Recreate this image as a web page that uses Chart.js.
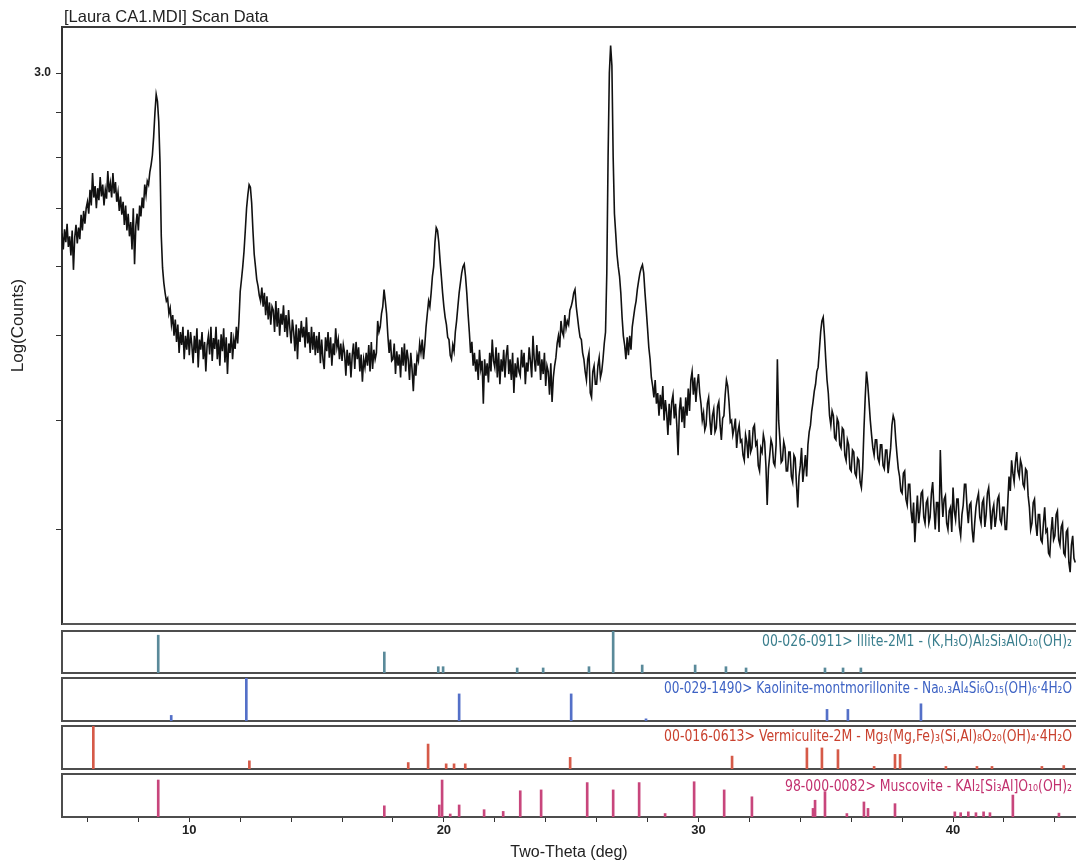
<!DOCTYPE html>
<html>
<head>
<meta charset="utf-8">
<title>Laura CA1 Scan Data</title>
<script src="https://cdn.jsdelivr.net/npm/chart.js@4.4.1/dist/chart.umd.min.js"></script>
<style>
  html, body { margin: 0; padding: 0; background: #fff; }
  #wrap { position: relative; width: 1076px; height: 866px; overflow: hidden; }
  #wrap canvas { position: absolute; left: 0; }
</style>
</head>
<body>
<div id="wrap">
  <canvas id="scanChart" width="1076" height="640" style="top:0px"></canvas>
  <canvas id="illiteChart" width="1076" height="50" style="top:627px"></canvas>
  <canvas id="kaoliniteChart" width="1076" height="51" style="top:674px"></canvas>
  <canvas id="vermiculiteChart" width="1076" height="51" style="top:722px"></canvas>
  <canvas id="muscoviteChart" width="1076" height="96" style="top:770px"></canvas>
</div>
<script>
// Scan: 2-theta sampling grid and counts (one row per degree)
const scanStart = 5.0;
const scanStep = 0.05;
const scanCounts = [
    655, 628, 662, 640, 672, 632, 650, 618, 660, 595, 648, 670, 638, 665, 645, 688, 660, 695, 672, 700,
    712, 690, 735, 705, 768, 720, 742, 700, 738, 715, 760, 722, 745, 705, 735, 718, 772, 730, 748, 720,
    768, 728, 750, 712, 730, 695, 722, 688, 712, 670, 705, 660, 690, 650, 675, 628, 700, 604, 668, 690,
    660, 705, 685, 720, 700, 745, 725, 752, 745, 770, 785, 805, 845, 900, 945, 928, 880, 790, 650, 598,
    575, 560, 548, 552, 530, 538, 515, 528, 500, 522, 492, 515, 478, 505, 488, 512, 470, 500, 482, 508,
    475, 505, 488, 465, 500, 478, 510, 460, 495, 482, 505, 470, 492, 455, 488, 500, 476, 512, 468, 497,
    483, 512, 470, 495, 462, 502, 480, 510, 466, 498, 452, 490, 478, 505, 470, 495, 483, 512, 490, 520,
    562, 580, 600, 625, 660, 700, 725, 745, 740, 710, 660, 620, 600, 580, 570, 556, 548, 568, 540, 560,
    528, 555, 522, 546, 515, 540, 535, 505, 548, 512, 538, 500, 530, 515, 542, 505, 528, 498, 535, 510,
    490, 522, 505, 480, 515, 470, 510, 492, 520, 498, 512, 485, 525, 490, 505, 478, 512, 482, 505, 475,
    500, 478, 505, 465, 495, 470, 458, 498, 480, 505, 472, 498, 462, 490, 475, 510, 485, 495, 470, 490,
    468, 488, 478, 450, 482, 462, 478, 448, 475, 490, 458, 492, 470, 485, 455, 476, 443, 470, 460, 478,
    462, 488, 455, 492, 458, 482, 470, 478, 520, 505, 512, 530, 540, 565, 548, 530, 500, 478, 495, 468,
    470, 490, 452, 480, 462, 476, 448, 485, 462, 490, 455, 482, 470, 445, 478, 458, 432, 465, 450, 475,
    468, 490, 478, 495, 470, 488, 512, 530, 548, 540, 560, 585, 600, 640, 665, 660, 640, 610, 585, 560,
    540, 525, 515, 498, 495, 475, 470, 488, 480, 505, 520, 540, 560, 575, 590, 600, 604, 585, 560, 530,
    505, 478, 492, 462, 478, 455, 470, 445, 482, 458, 468, 418, 470, 450, 465, 442, 478, 455, 495, 468,
    460, 485, 448, 478, 440, 470, 455, 482, 448, 475, 488, 452, 470, 445, 478, 430, 465, 448, 472, 455,
    450, 482, 460, 478, 440, 466, 455, 485, 468, 448, 500, 470, 455, 488, 462, 480, 445, 470, 452, 478,
    438, 462, 455, 428, 465, 420, 448, 462, 472, 490, 500, 485, 520, 505, 500, 528, 510, 520, 515, 535,
    540, 548, 560, 565, 540, 525, 510, 498, 495, 478, 470, 455, 445, 470, 478, 430, 425, 455, 462, 440,
    440, 462, 472, 448, 455, 470, 490, 505, 590, 800, 1000, 1075, 1020, 800, 690, 655, 620, 600, 585, 560,
    525, 500, 488, 470, 498, 475, 500, 482, 512, 525, 538, 548, 565, 578, 590, 598, 603, 590, 560, 535,
    510, 485, 470, 448, 438, 425, 445, 418, 430, 405, 428, 412, 438, 400, 422, 408, 385, 418, 395, 420,
    428, 402, 418, 395, 365, 410, 425, 398, 415, 392, 425, 405, 435, 410, 445, 455, 428, 448, 420, 440,
    452, 430, 418, 400, 408, 390, 395, 418, 425, 400, 385, 405, 412, 388, 392, 415, 420, 395, 380, 402,
    405, 428, 445, 438, 420, 398, 400, 385, 392, 402, 372, 388, 395, 378, 380, 365, 360, 385, 378, 362,
    390, 368, 372, 392, 395, 375, 378, 355, 350, 372, 368, 385, 378, 355, 320, 352, 365, 380, 375, 358,
    355, 375, 470, 400, 380, 358, 360, 378, 372, 350, 350, 368, 368, 345, 340, 365, 362, 338, 318, 345,
    355, 372, 340, 352, 365, 345, 375, 388, 395, 410, 420, 432, 440, 455, 460, 482, 505, 520, 525, 500,
    470, 445, 430, 405, 395, 410, 405, 382, 380, 402, 398, 375, 372, 392, 390, 365, 360, 380, 375, 352,
    350, 370, 368, 348, 345, 362, 360, 340, 335, 352, 390, 425, 455, 440, 420, 400, 385, 372, 365, 380,
    380, 362, 358, 375, 375, 355, 352, 370, 370, 348, 360, 372, 395, 405, 400, 380, 365, 352, 345, 332,
    330, 348, 350, 325, 320, 338, 338, 315, 305, 322, 290, 310, 328, 305, 315, 330, 332, 310, 305, 322,
    325, 305, 310, 330, 340, 318, 300, 322, 322, 298, 370, 330, 310, 325, 328, 305, 300, 315, 318, 298,
    335, 315, 308, 325, 325, 302, 295, 312, 320, 338, 338, 318, 305, 320, 322, 300, 290, 305, 318, 325,
    330, 310, 305, 322, 325, 302, 312, 330, 335, 318, 300, 315, 320, 302, 310, 325, 328, 308, 305, 318,
    318, 300, 300, 322, 345, 332, 360, 348, 340, 358, 368, 350, 345, 360, 355, 338, 335, 352, 350, 328,
    318, 300, 305, 322, 325, 305, 295, 312, 312, 292, 290, 305, 318, 298, 300, 282, 280, 298, 310, 292,
    295, 312, 315, 292, 288, 302, 305, 282, 280, 298, 300, 275, 268, 288, 295, 278, 275
];

// Reference patterns: peak positions (deg 2-theta) and relative intensity (%)
const illitePos = [8.78, 17.66, 19.78, 19.97, 22.88, 23.90, 25.70, 26.65, 27.79, 29.87, 31.08, 31.87, 34.97, 35.68, 36.38];
const illiteInt = [90, 50, 15, 15, 12, 12, 15, 100, 19, 19, 15, 12, 12, 12, 12];

const kaolinitePos = [9.29, 12.24, 20.60, 25.00, 27.94, 35.05, 35.87, 38.74];
const kaoliniteInt = [13, 100, 63, 63, 5, 27, 27, 40];

const vermiculitePos = [6.23, 12.36, 18.60, 19.38, 20.09, 20.40, 20.84, 24.96, 31.32, 34.26, 34.85, 35.48, 36.90, 37.72, 37.92, 39.72, 40.94, 41.53, 43.49, 44.35];
const vermiculiteInt = [100, 19, 15, 58, 12, 12, 12, 27, 30, 49, 49, 45, 6, 34, 34, 6, 6, 6, 6, 8];

const muscovitePos = [8.78, 17.66, 19.82, 19.93, 20.25, 20.60, 21.58, 22.33, 23.00, 23.82, 25.63, 26.65, 27.67, 28.69, 29.83, 31.01, 32.10, 34.50, 34.58, 34.97, 35.83, 36.50, 36.66, 37.72, 40.07, 40.30, 40.60, 40.90, 41.20, 41.45, 42.35, 44.16];
const muscoviteInt = [86, 26, 28, 86, 7, 28, 17, 13, 61, 63, 80, 63, 80, 8, 82, 63, 47, 20, 39, 59, 8, 35, 20, 31, 12, 10, 12, 10, 12, 10, 51, 9];

// Axis ticks
const xTickValues = [6, 8, 10, 12, 14, 16, 18, 20, 22, 24, 26, 28, 30, 32, 34, 36, 38, 40, 42, 44];
const xTickLabels = [10, 20, 30, 40];
const yTickValues = [300, 400, 500, 600, 700, 800, 900, 1000];
const yTickLabel = { 1000: '3.0' };

const X_MIN = 5.0;
const X_MAX = 44.83;
const SANS = '"Liberation Sans", Arial, Helvetica, sans-serif';
const NARROW = '"Liberation Sans Narrow", "DejaVu Sans Condensed", "Liberation Sans", sans-serif';

// Title and frame of the scan plot
const scanFrame = {
    id: 'scanFrame',
    afterDraw(chart) {
        const { ctx, chartArea: a } = chart;
        ctx.save();
        ctx.strokeStyle = '#3a3a3a';
        ctx.lineWidth = 2;
        ctx.beginPath();
        ctx.moveTo(a.left, a.top);
        ctx.lineTo(a.right + 5, a.top);
        ctx.stroke();
        ctx.strokeStyle = '#555';
        ctx.beginPath();
        ctx.moveTo(a.left, a.bottom);
        ctx.lineTo(a.right + 5, a.bottom);
        ctx.stroke();
        ctx.font = '16.5px ' + SANS;
        ctx.fillStyle = '#222';
        ctx.textBaseline = 'middle';
        ctx.textAlign = 'left';
        ctx.fillText('[Laura CA1.MDI] Scan Data', a.left + 2, 17);
        ctx.restore();
    }
};

// Frame and label of a reference-pattern panel
const panelFrame = {
    id: 'panelFrame',
    beforeDatasetsDraw(chart) {
        const { ctx, chartArea: a } = chart;
        ctx.save();
        ctx.strokeStyle = '#4d4d4d';
        ctx.lineWidth = 2;
        ctx.strokeRect(a.left, a.top, a.right - a.left + 20, a.bottom - a.top);
        ctx.restore();
    },
    afterDatasetsDraw(chart, args, opts) {
        if (!opts.text) return;
        const { ctx, chartArea: a } = chart;
        ctx.save();
        ctx.font = '15px ' + NARROW;
        ctx.fillStyle = opts.color;
        ctx.textBaseline = 'middle';
        ctx.textAlign = 'left';
        // squeeze the label to the width it takes in the original
        const w = ctx.measureText(opts.text).width;
        ctx.translate(a.right - 4 - opts.width, a.top + opts.dy);
        ctx.scale(opts.width / w, 1);
        ctx.fillText(opts.text, 0, 0);
        ctx.restore();
    }
};

const scanData = scanCounts.map((c, i) => ({ x: +(scanStart + i * scanStep).toFixed(2), y: c }));

new Chart(document.getElementById('scanChart'), {
    type: 'line',
    data: {
        datasets: [{
            data: scanData,
            borderColor: '#111',
            borderWidth: 1.6,
            pointRadius: 0,
            tension: 0,
            fill: false
        }]
    },
    options: {
        responsive: false,
        animation: false,
        devicePixelRatio: 1,
        events: [],
        layout: { padding: { top: 27, bottom: 16, left: 0, right: 0 } },
        plugins: { legend: { display: false }, tooltip: { enabled: false } },
        scales: {
            x: { type: 'linear', min: X_MIN, max: X_MAX, display: false },
            y: {
                type: 'logarithmic',
                min: 233.8,
                max: 1129,
                position: 'left',
                afterBuildTicks: s => { s.ticks = yTickValues.map(v => ({ value: v })); },
                afterFit: s => { s.width = 62; },
                grid: { drawOnChartArea: false, drawTicks: true, tickLength: 6, color: '#333', lineWidth: 1 },
                border: { display: true, color: '#333', width: 2 },
                ticks: {
                    autoSkip: false,
                    padding: 5,
                    color: '#222',
                    font: { family: SANS, size: 12, weight: 'bold' },
                    callback: v => yTickLabel[v] || ''
                },
                title: {
                    display: true,
                    text: 'Log(Counts)',
                    color: '#222',
                    font: { family: SANS, size: 17 },
                    padding: { top: 8, bottom: 0 }
                }
            }
        }
    },
    plugins: [scanFrame]
});

function makePanel(id, positions, intensities, stickColor, label, showAxis) {
    const x = {
        type: 'linear',
        min: X_MIN,
        max: X_MAX,
        offset: false,
        display: showAxis
    };
    if (showAxis) {
        Object.assign(x, {
            position: 'bottom',
            afterBuildTicks: s => { s.ticks = xTickValues.map(v => ({ value: v })); },
            afterFit: s => { s.height = 49; },
            grid: { offset: false, drawOnChartArea: false, drawTicks: true, tickLength: 5, color: '#333' },
            border: { display: false },
            ticks: {
                autoSkip: false,
                maxRotation: 0,
                padding: 1,
                color: '#222',
                font: { family: SANS, size: 13, weight: 'bold' },
                callback: v => xTickLabels.includes(v) ? String(v) : ''
            },
            title: {
                display: true,
                text: 'Two-Theta (deg)',
                color: '#222',
                font: { family: SANS, size: 16 },
                padding: { top: 0, bottom: 4 }
            }
        });
    } else {
        x.grid = { offset: false };
    }

    return new Chart(document.getElementById(id), {
        type: 'bar',
        data: {
            datasets: [{
                data: positions.map((p, i) => ({ x: p, y: intensities[i] })),
                backgroundColor: stickColor,
                borderWidth: 0,
                barThickness: 2,
                grouped: false
            }]
        },
        options: {
            responsive: false,
            animation: false,
            devicePixelRatio: 1,
            events: [],
            layout: { padding: { top: 4, bottom: showAxis ? 0 : 4, left: 62, right: 0 } },
            plugins: {
                legend: { display: false },
                tooltip: { enabled: false },
                panelFrame: label
            },
            scales: {
                x,
                y: { min: 0, max: 100, display: false }
            }
        },
        plugins: [panelFrame]
    });
}

makePanel('illiteChart', illitePos, illiteInt, '#5a8a9a',
    { text: '00-026-0911> Illite-2M1 - (K,H₃O)Al₂Si₃AlO₁₀(OH)₂', color: '#3b7f8e', width: 310, dy: 11 }, false);
makePanel('kaoliniteChart', kaolinitePos, kaoliniteInt, '#5470c8',
    { text: '00-029-1490> Kaolinite-montmorillonite - Na₀.₃Al₄Si₆O₁₅(OH)₆·4H₂O', color: '#3d62c4', width: 408, dy: 11 }, false);
makePanel('vermiculiteChart', vermiculitePos, vermiculiteInt, '#d65a48',
    { text: '00-016-0613> Vermiculite-2M - Mg₃(Mg,Fe)₃(Si,Al)₈O₂₀(OH)₄·4H₂O', color: '#c9412e', width: 408, dy: 11 }, false);
makePanel('muscoviteChart', muscovitePos, muscoviteInt, '#c8467c',
    { text: '98-000-0082> Muscovite - KAl₂[Si₃Al]O₁₀(OH)₂', color: '#c2306e', width: 287, dy: 13 }, true);
</script>
</body>
</html>
